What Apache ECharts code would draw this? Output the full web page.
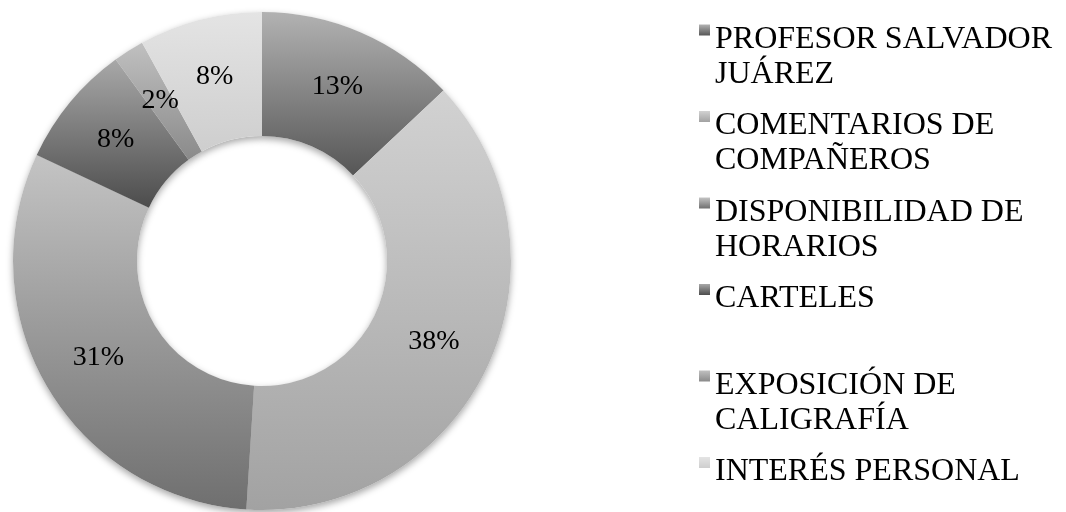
<!DOCTYPE html>
<html>
<head>
<meta charset="utf-8">
<script src="https://cdn.jsdelivr.net/npm/echarts@6/dist/echarts.min.js"></script>
<style>
  html, body { margin: 0; padding: 0; background: #fff; }
  #chart { width: 1066px; height: 512px; }
</style>
</head>
<body>
<div id="chart"></div>
<script>
// Reasons for enrolling: share of answers, clockwise from 12 o'clock
const categories = [
  'PROFESOR SALVADOR JUÁREZ',
  'COMENTARIOS DE COMPAÑEROS',
  'DISPONIBILIDAD DE HORARIOS',
  'CARTELES',
  'EXPOSICIÓN DE CALIGRAFÍA',
  'INTERÉS PERSONAL'
];
const shares = [13, 38, 31, 8, 2, 8];

// How each legend entry wraps
const legendLines = [
  ['PROFESOR SALVADOR', 'JUÁREZ'],
  ['COMENTARIOS DE', 'COMPAÑEROS'],
  ['DISPONIBILIDAD DE', 'HORARIOS'],
  ['CARTELES'],
  ['EXPOSICIÓN DE', 'CALIGRAFÍA'],
  ['INTERÉS PERSONAL']
];

// Vertical grey shading of each slice: [top, bottom]
const shades = [
  ['#b2b2b2', '#565656'],
  ['#d2d2d2', '#a2a2a2'],
  ['#c4c4c4', '#6f6f6f'],
  ['#a8a8a8', '#4c4c4c'],
  ['#c0c0c0', '#8a8a8a'],
  ['#e4e4e4', '#cecece']
];

const serif = '"Liberation Serif", "Times New Roman", serif';

function shade(i) {
  return new echarts.graphic.LinearGradient(0, 0, 0, 1, [
    { offset: 0, color: shades[i][0] },
    { offset: 1, color: shades[i][1] }
  ]);
}

const sliceData = categories.map((name, i) => ({
  name: name,
  value: shares[i],
  itemStyle: { color: shade(i) }
}));

const ringCenter = [262, 261];
const ringRadius = [125, 249];

const chart = echarts.init(document.getElementById('chart'), null, { renderer: 'canvas' });

chart.setOption({
  backgroundColor: '#ffffff',
  animation: false,
  legend: {
    orient: 'vertical',
    left: 699,
    top: -10,
    height: 800,
    padding: 0,
    icon: 'rect',
    itemWidth: 11,
    itemHeight: 11,
    itemGap: -14,
    selectedMode: false,
    data: categories,
    // a spacer line on top keeps the marker level with the first text line
    formatter: function (name) {
      const lines = legendLines[categories.indexOf(name)].slice();
      while (lines.length < 2) lines.push(' ');
      return '{pad| }\n' + lines.map(l => '{t|' + l + '}').join('\n');
    },
    textStyle: {
      fontFamily: serif,
      fontSize: 32,
      color: '#000',
      rich: {
        pad: { fontSize: 10, lineHeight: 54 },
        t: { fontFamily: serif, fontSize: 32, lineHeight: 35, color: '#000' }
      }
    }
  },
  series: [
    {
      name: 'Motivos',
      type: 'pie',
      z: 3,
      center: ringCenter,
      radius: ringRadius,
      startAngle: 90,
      clockwise: true,
      avoidLabelOverlap: false,
      silent: true,
      itemStyle: { borderWidth: 0 },
      label: {
        show: true,
        position: 'inside',
        formatter: '{c}%',
        fontFamily: serif,
        fontSize: 28,
        color: '#000'
      },
      labelLine: { show: false },
      data: sliceData
    },
    {
      // soft drop shadow under the ring
      name: 'sombra',
      type: 'pie',
      z: 1,
      center: ringCenter,
      radius: ringRadius,
      startAngle: 90,
      clockwise: true,
      silent: true,
      label: { show: false },
      labelLine: { show: false },
      itemStyle: {
        color: '#ffffff',
        borderWidth: 0,
        shadowBlur: 7,
        shadowOffsetY: 3,
        shadowColor: 'rgba(0,0,0,0.35)'
      },
      data: categories.map((name, i) => ({ name: name, value: shares[i] }))
    }
  ]
});
</script>
</body>
</html>
